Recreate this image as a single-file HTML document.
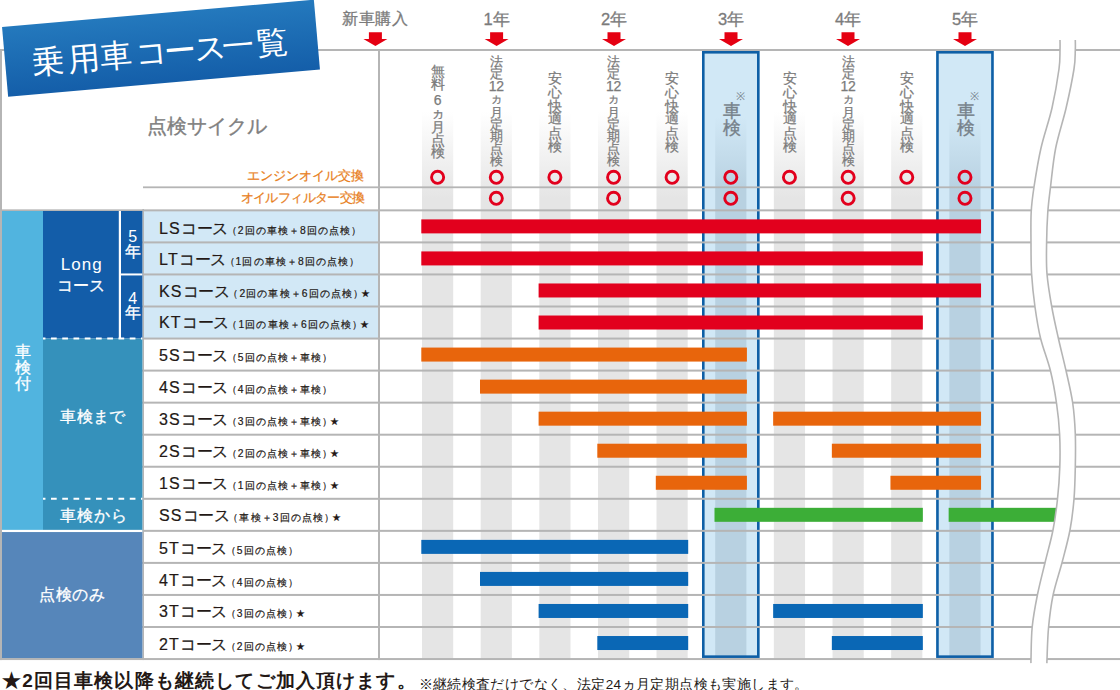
<!DOCTYPE html>
<html><head><meta charset="utf-8"><style>
*{margin:0;padding:0;box-sizing:border-box}
html,body{width:1120px;height:690px;overflow:hidden;background:#fff}
body{position:relative;font-family:"Liberation Sans",sans-serif;}
svg{position:absolute;left:0;top:0}
.ttl{position:absolute;left:4.5px;top:16.5px;width:313px;height:70px;transform:rotate(-5deg);color:#fff;font-size:32px;line-height:70px;padding-left:27px;letter-spacing:0;font-weight:300;white-space:nowrap}
.yl{position:absolute;top:9px;text-align:center;color:#7b7b7b;font-size:16.5px;line-height:20px;white-space:nowrap;-webkit-text-stroke:0.3px #7b7b7b}
.cyc{position:absolute;left:147px;top:114px;color:#808080;font-size:20px;line-height:24px;-webkit-text-stroke:0.35px #808080;white-space:nowrap}
.oil{position:absolute;right:756px;color:#e8801d;font-size:12.5px;-webkit-text-stroke:0.25px #e8801d;line-height:15px;white-space:nowrap}
.vt{position:absolute;top:0;width:30px;color:#7b7b7b;-webkit-text-stroke:0.25px #7b7b7b}
.vt span{position:absolute;left:0;width:30px;height:20px;line-height:20px;text-align:center;white-space:nowrap}
.vt.sk{color:#76818a;-webkit-text-stroke:0.35px #76818a}
.kome{position:absolute;width:10px;text-align:center;color:#76818a;font-size:11px;line-height:11px}
.wl{position:absolute;color:#fff;text-align:center;white-space:nowrap;-webkit-text-stroke:0.3px #fff}
.cl{position:absolute;left:159px;height:18px;line-height:18px;color:#231815;-webkit-text-stroke:0.2px #231815;white-space:nowrap}
.cc{font-size:16px;letter-spacing:1.2px}
.cn{font-size:15.5px;letter-spacing:-0.3px}
.cd{font-size:10.3px;margin-left:-1.5px;letter-spacing:1.1px;-webkit-text-stroke:0.2px #231815}
.ft1{position:absolute;left:2px;top:669.5px;font-size:19px;line-height:22px;font-weight:bold;color:#231815;white-space:nowrap;letter-spacing:1.15px}
.ft2{position:absolute;left:418.5px;top:677px;font-size:13.5px;line-height:16px;color:#231815;white-space:nowrap;letter-spacing:0.4px}
</style></head>
<body>
<svg width="1120" height="690" viewBox="0 0 1120 690">
<defs>
<linearGradient id="gs" x1="0" y1="51" x2="0" y2="215" gradientUnits="userSpaceOnUse"><stop offset="0" stop-color="#e5e5e5" stop-opacity="0"/><stop offset="0.37" stop-color="#e5e5e5" stop-opacity="0"/><stop offset="0.9" stop-color="#e5e5e5" stop-opacity="1"/><stop offset="1" stop-color="#e5e5e5" stop-opacity="1"/></linearGradient>
<linearGradient id="gb" x1="0" y1="51" x2="0" y2="215" gradientUnits="userSpaceOnUse"><stop offset="0" stop-color="#b8d1e1" stop-opacity="0"/><stop offset="0.4" stop-color="#b8d1e1" stop-opacity="0"/><stop offset="0.85" stop-color="#b8d1e1" stop-opacity="1"/><stop offset="1" stop-color="#b8d1e1" stop-opacity="1"/></linearGradient>
<linearGradient id="gt" x1="0" y1="0" x2="0" y2="1"><stop offset="0" stop-color="#2479bd"/><stop offset="1" stop-color="#145ea9"/></linearGradient>
</defs>
<rect x="144" y="210" width="234" height="128.55" fill="#d2e8f6"/>
<rect x="422.00" y="51" width="31.20" height="608.05" fill="url(#gs)"/>
<rect x="480.70" y="51" width="31.20" height="608.05" fill="url(#gs)"/>
<rect x="539.30" y="51" width="31.20" height="608.05" fill="url(#gs)"/>
<rect x="598.00" y="51" width="31.20" height="608.05" fill="url(#gs)"/>
<rect x="656.50" y="51" width="31.20" height="608.05" fill="url(#gs)"/>
<rect x="702.00" y="51" width="57.6" height="606.95" fill="#d1e8f6"/>
<rect x="715.20" y="51" width="31.20" height="606.95" fill="url(#gb)"/>
<rect x="703.30" y="52.3" width="55.00" height="604.35" fill="none" stroke="#0e5fa6" stroke-width="2.6"/>
<rect x="773.85" y="51" width="31.20" height="608.05" fill="url(#gs)"/>
<rect x="832.55" y="51" width="31.20" height="608.05" fill="url(#gs)"/>
<rect x="891.15" y="51" width="31.20" height="608.05" fill="url(#gs)"/>
<rect x="936.15" y="51" width="57.6" height="606.95" fill="#d1e8f6"/>
<rect x="949.35" y="51" width="31.20" height="606.95" fill="url(#gb)"/>
<rect x="937.45" y="52.3" width="55.00" height="604.35" fill="none" stroke="#0e5fa6" stroke-width="2.6"/>
<rect x="0" y="49" width="1120" height="2" fill="#b5b5b5"/>
<rect x="143" y="186.4" width="977" height="1.8" fill="#b5b5b5"/>
<rect x="0" y="209.35" width="1120" height="2" fill="#b5b5b5"/>
<rect x="142" y="241.40" width="978" height="2" fill="#b5b5b5"/>
<rect x="142" y="273.45" width="978" height="2" fill="#b5b5b5"/>
<rect x="142" y="305.50" width="978" height="2" fill="#b5b5b5"/>
<rect x="142" y="337.55" width="978" height="2" fill="#b5b5b5"/>
<rect x="142" y="369.60" width="978" height="2" fill="#b5b5b5"/>
<rect x="142" y="401.65" width="978" height="2" fill="#b5b5b5"/>
<rect x="142" y="433.70" width="978" height="2" fill="#b5b5b5"/>
<rect x="142" y="465.75" width="978" height="2" fill="#b5b5b5"/>
<rect x="142" y="497.80" width="978" height="2" fill="#b5b5b5"/>
<rect x="142" y="529.85" width="978" height="2" fill="#b5b5b5"/>
<rect x="142" y="561.90" width="978" height="2" fill="#b5b5b5"/>
<rect x="142" y="593.95" width="978" height="2" fill="#b5b5b5"/>
<rect x="142" y="626.00" width="978" height="2" fill="#b5b5b5"/>
<rect x="0" y="658.05" width="1120" height="2" fill="#b5b5b5"/>
<rect x="0" y="49" width="2" height="611.05" fill="#b5b5b5"/>
<rect x="378" y="49" width="2" height="611.05" fill="#b5b5b5"/>
<rect x="142.4" y="209" width="1.6" height="451.05" fill="#b5b5b5"/>
<rect x="2" y="211" width="41" height="319.85" fill="#51b4df"/>
<rect x="43" y="211" width="99.4" height="127.55" fill="#135da9"/>
<rect x="43" y="338.55" width="99.4" height="192.30" fill="#3591bb"/>
<rect x="2" y="530.85" width="140.4" height="127.20" fill="#5686ba"/>
<rect x="118.8" y="211" width="2.2" height="127.55" fill="#fff"/>
<rect x="121" y="273.45" width="21.4" height="2" fill="#fff"/>
<rect x="2" y="529.85" width="140.4" height="2.2" fill="#fff"/>
<line x1="43" y1="338.55" x2="142.4" y2="338.55" stroke="#fff" stroke-width="2" stroke-dasharray="5.7 5.55" stroke-dashoffset="3.25"/>
<line x1="43" y1="498.80" x2="142.4" y2="498.80" stroke="#fff" stroke-width="2" stroke-dasharray="5.7 5.55" stroke-dashoffset="3.25"/>
<rect x="421.30" y="219.38" width="559.75" height="14" fill="#e2001d"/>
<rect x="421.30" y="251.42" width="501.55" height="14" fill="#e2001d"/>
<rect x="538.60" y="283.47" width="442.45" height="14" fill="#e2001d"/>
<rect x="538.60" y="315.52" width="384.25" height="14" fill="#e2001d"/>
<rect x="421.30" y="347.57" width="325.60" height="14" fill="#e8650c"/>
<rect x="480.00" y="379.62" width="266.90" height="14" fill="#e8650c"/>
<rect x="538.60" y="411.67" width="208.30" height="14" fill="#e8650c"/>
<rect x="773.15" y="411.67" width="207.90" height="14" fill="#e8650c"/>
<rect x="597.30" y="443.72" width="149.60" height="14" fill="#e8650c"/>
<rect x="831.85" y="443.72" width="149.20" height="14" fill="#e8650c"/>
<rect x="655.80" y="475.77" width="91.10" height="14" fill="#e8650c"/>
<rect x="890.45" y="475.77" width="90.60" height="14" fill="#e8650c"/>
<rect x="714.50" y="507.82" width="208.35" height="14" fill="#3cae37"/>
<rect x="948.65" y="507.82" width="109.35" height="14" fill="#3cae37"/>
<rect x="421.30" y="539.88" width="266.90" height="14" fill="#0a67b5"/>
<rect x="480.00" y="571.92" width="208.20" height="14" fill="#0a67b5"/>
<rect x="538.60" y="603.97" width="149.60" height="14" fill="#0a67b5"/>
<rect x="773.15" y="603.97" width="149.70" height="14" fill="#0a67b5"/>
<rect x="597.30" y="636.02" width="90.90" height="14" fill="#0a67b5"/>
<rect x="831.85" y="636.02" width="91.00" height="14" fill="#0a67b5"/>
<circle cx="437.60" cy="177.3" r="6.05" fill="none" stroke="#e2001d" stroke-width="2.9"/>
<circle cx="496.30" cy="177.3" r="6.05" fill="none" stroke="#e2001d" stroke-width="2.9"/>
<circle cx="554.90" cy="177.3" r="6.05" fill="none" stroke="#e2001d" stroke-width="2.9"/>
<circle cx="613.60" cy="177.3" r="6.05" fill="none" stroke="#e2001d" stroke-width="2.9"/>
<circle cx="672.10" cy="177.3" r="6.05" fill="none" stroke="#e2001d" stroke-width="2.9"/>
<circle cx="730.80" cy="177.3" r="6.05" fill="none" stroke="#e2001d" stroke-width="2.9"/>
<circle cx="789.45" cy="177.3" r="6.05" fill="none" stroke="#e2001d" stroke-width="2.9"/>
<circle cx="848.15" cy="177.3" r="6.05" fill="none" stroke="#e2001d" stroke-width="2.9"/>
<circle cx="906.75" cy="177.3" r="6.05" fill="none" stroke="#e2001d" stroke-width="2.9"/>
<circle cx="964.95" cy="177.3" r="6.05" fill="none" stroke="#e2001d" stroke-width="2.9"/>
<circle cx="496.30" cy="198.3" r="6.05" fill="none" stroke="#e2001d" stroke-width="2.9"/>
<circle cx="613.60" cy="198.3" r="6.05" fill="none" stroke="#e2001d" stroke-width="2.9"/>
<circle cx="730.80" cy="198.3" r="6.05" fill="none" stroke="#e2001d" stroke-width="2.9"/>
<circle cx="848.15" cy="198.3" r="6.05" fill="none" stroke="#e2001d" stroke-width="2.9"/>
<circle cx="964.95" cy="198.3" r="6.05" fill="none" stroke="#e2001d" stroke-width="2.9"/>
<path d="M1060.00 40.00 C1060.00 41.67 1060.17 45.17 1060.00 50.00 C1059.83 54.83 1060.33 59.33 1059.00 69.00 C1057.67 78.67 1055.00 94.83 1052.00 108.00 C1049.00 121.17 1044.00 134.83 1041.00 148.00 C1038.00 161.17 1035.63 176.33 1034.00 187.00 C1032.37 197.67 1031.70 202.67 1031.20 212.00 C1030.70 221.33 1030.93 232.67 1031.00 243.00 C1031.07 253.33 1030.93 263.33 1031.60 274.00 C1032.27 284.67 1033.52 296.33 1035.00 307.00 C1036.48 317.67 1037.92 327.33 1040.50 338.00 C1043.08 348.67 1047.83 360.17 1050.50 371.00 C1053.17 381.83 1054.98 392.50 1056.50 403.00 C1058.02 413.50 1059.05 423.33 1059.60 434.00 C1060.15 444.67 1060.15 456.17 1059.80 467.00 C1059.45 477.83 1058.63 488.50 1057.50 499.00 C1056.37 509.50 1055.05 519.50 1053.00 530.00 C1050.95 540.50 1047.80 551.17 1045.20 562.00 C1042.60 572.83 1039.57 584.17 1037.40 595.00 C1035.23 605.83 1033.27 616.33 1032.20 627.00 C1031.13 637.67 1031.20 653.00 1031.00 659.00 C1030.80 665.00 1031.00 662.33 1031.00 663.00 L1047.00 663.00 C1047.00 662.33 1046.73 665.00 1047.00 659.00 C1047.27 653.00 1047.58 637.67 1048.60 627.00 C1049.62 616.33 1050.83 605.83 1053.10 595.00 C1055.37 584.17 1059.38 572.83 1062.20 562.00 C1065.02 551.17 1068.03 540.50 1070.00 530.00 C1071.97 519.50 1073.12 509.50 1074.00 499.00 C1074.88 488.50 1075.08 477.83 1075.30 467.00 C1075.52 456.17 1075.73 444.67 1075.30 434.00 C1074.87 423.33 1074.23 413.50 1072.70 403.00 C1071.17 392.50 1068.50 381.83 1066.10 371.00 C1063.70 360.17 1060.68 348.67 1058.30 338.00 C1055.92 327.33 1053.68 317.67 1051.80 307.00 C1049.92 296.33 1047.87 284.67 1047.00 274.00 C1046.13 263.33 1046.47 253.33 1046.60 243.00 C1046.73 232.67 1047.15 221.33 1047.80 212.00 C1048.45 202.67 1049.18 197.67 1050.50 187.00 C1051.82 176.33 1053.10 161.17 1055.70 148.00 C1058.30 134.83 1063.05 121.17 1066.10 108.00 C1069.15 94.83 1072.47 78.67 1074.00 69.00 C1075.53 59.33 1075.08 54.83 1075.30 50.00 C1075.52 45.17 1075.30 41.67 1075.30 40.00 Z" fill="#fff"/>
<path d="M1060.00 40.00 C1060.00 41.67 1060.17 45.17 1060.00 50.00 C1059.83 54.83 1060.33 59.33 1059.00 69.00 C1057.67 78.67 1055.00 94.83 1052.00 108.00 C1049.00 121.17 1044.00 134.83 1041.00 148.00 C1038.00 161.17 1035.63 176.33 1034.00 187.00 C1032.37 197.67 1031.70 202.67 1031.20 212.00 C1030.70 221.33 1030.93 232.67 1031.00 243.00 C1031.07 253.33 1030.93 263.33 1031.60 274.00 C1032.27 284.67 1033.52 296.33 1035.00 307.00 C1036.48 317.67 1037.92 327.33 1040.50 338.00 C1043.08 348.67 1047.83 360.17 1050.50 371.00 C1053.17 381.83 1054.98 392.50 1056.50 403.00 C1058.02 413.50 1059.05 423.33 1059.60 434.00 C1060.15 444.67 1060.15 456.17 1059.80 467.00 C1059.45 477.83 1058.63 488.50 1057.50 499.00 C1056.37 509.50 1055.05 519.50 1053.00 530.00 C1050.95 540.50 1047.80 551.17 1045.20 562.00 C1042.60 572.83 1039.57 584.17 1037.40 595.00 C1035.23 605.83 1033.27 616.33 1032.20 627.00 C1031.13 637.67 1031.20 653.00 1031.00 659.00 C1030.80 665.00 1031.00 662.33 1031.00 663.00" fill="none" stroke="#b5b5b5" stroke-width="1.6"/>
<path d="M1075.30 40.00 C1075.30 41.67 1075.52 45.17 1075.30 50.00 C1075.08 54.83 1075.53 59.33 1074.00 69.00 C1072.47 78.67 1069.15 94.83 1066.10 108.00 C1063.05 121.17 1058.30 134.83 1055.70 148.00 C1053.10 161.17 1051.82 176.33 1050.50 187.00 C1049.18 197.67 1048.45 202.67 1047.80 212.00 C1047.15 221.33 1046.73 232.67 1046.60 243.00 C1046.47 253.33 1046.13 263.33 1047.00 274.00 C1047.87 284.67 1049.92 296.33 1051.80 307.00 C1053.68 317.67 1055.92 327.33 1058.30 338.00 C1060.68 348.67 1063.70 360.17 1066.10 371.00 C1068.50 381.83 1071.17 392.50 1072.70 403.00 C1074.23 413.50 1074.87 423.33 1075.30 434.00 C1075.73 444.67 1075.52 456.17 1075.30 467.00 C1075.08 477.83 1074.88 488.50 1074.00 499.00 C1073.12 509.50 1071.97 519.50 1070.00 530.00 C1068.03 540.50 1065.02 551.17 1062.20 562.00 C1059.38 572.83 1055.37 584.17 1053.10 595.00 C1050.83 605.83 1049.62 616.33 1048.60 627.00 C1047.58 637.67 1047.27 653.00 1047.00 659.00 C1046.73 665.00 1047.00 662.33 1047.00 663.00" fill="none" stroke="#b5b5b5" stroke-width="1.6"/>
<path d="M368.90 32.2 h13 v6.7 h5.5 l-12 7 l-12 -7 h5.5 z" fill="#e50012"/>
<path d="M490.10 32.2 h13 v6.7 h5.5 l-12 7 l-12 -7 h5.5 z" fill="#e50012"/>
<path d="M607.50 32.2 h13 v6.7 h5.5 l-12 7 l-12 -7 h5.5 z" fill="#e50012"/>
<path d="M724.50 32.2 h13 v6.7 h5.5 l-12 7 l-12 -7 h5.5 z" fill="#e50012"/>
<path d="M841.50 32.2 h13 v6.7 h5.5 l-12 7 l-12 -7 h5.5 z" fill="#e50012"/>
<path d="M958.50 32.2 h13 v6.7 h5.5 l-12 7 l-12 -7 h5.5 z" fill="#e50012"/>
<g transform="translate(161 48.2) rotate(-5)"><rect x="-156.5" y="-35" width="313" height="70" fill="url(#gt)"/></g>
</svg>
<div class="ttl"><span style="display:inline-block;width:35.4px">乗</span><span style="display:inline-block;width:32.7px">用</span><span style="display:inline-block;width:34.4px">車</span><span style="display:inline-block;width:29.6px">コ</span><span style="display:inline-block;width:30.6px">ー</span><span style="display:inline-block;width:27.5px">ス</span><span style="display:inline-block;width:33.8px">一</span><span style="display:inline-block;width:33.0px">覧</span></div>
<div class="yl" style="left:335.4px;width:80px;font-size:15.5px;letter-spacing:0.6px">新車購入</div>
<div class="yl" style="left:466.6px;width:60px;">1年</div>
<div class="yl" style="left:584.0px;width:60px;">2年</div>
<div class="yl" style="left:701.0px;width:60px;">3年</div>
<div class="yl" style="left:818.0px;width:60px;">4年</div>
<div class="yl" style="left:935.0px;width:60px;">5年</div>
<div class="cyc">点検サイクル</div>
<div class="oil" style="top:169px">エンジンオイル交換</div>
<div class="oil" style="top:191px;letter-spacing:-0.6px;right:755.4px">オイルフィルター交換</div>
<div class="vt" style="left:422.6px;font-size:14px"><span style="top:60.65px">無</span><span style="top:73.95px">料</span><span style="top:89.65px;font-size:14px;letter-spacing:-0.3px">6</span><span style="top:103.25px">ヵ</span><span style="top:116.80px">月</span><span style="top:129.50px">点</span><span style="top:142.05px">検</span></div>
<div class="vt" style="left:481.3px;font-size:12.6px"><span style="top:51.75px">法</span><span style="top:63.70px">定</span><span style="top:76.15px;font-size:14px;letter-spacing:-0.3px">12</span><span style="top:88.95px">ヵ</span><span style="top:102.75px">月</span><span style="top:114.85px">定</span><span style="top:126.65px">期</span><span style="top:138.85px">点</span><span style="top:151.00px">検</span></div>
<div class="vt" style="left:598.6px;font-size:12.6px"><span style="top:51.75px">法</span><span style="top:63.70px">定</span><span style="top:76.15px;font-size:14px;letter-spacing:-0.3px">12</span><span style="top:88.95px">ヵ</span><span style="top:102.75px">月</span><span style="top:114.85px">定</span><span style="top:126.65px">期</span><span style="top:138.85px">点</span><span style="top:151.00px">検</span></div>
<div class="vt" style="left:833.1px;font-size:12.6px"><span style="top:51.75px">法</span><span style="top:63.70px">定</span><span style="top:76.15px;font-size:14px;letter-spacing:-0.3px">12</span><span style="top:88.95px">ヵ</span><span style="top:102.75px">月</span><span style="top:114.85px">定</span><span style="top:126.65px">期</span><span style="top:138.85px">点</span><span style="top:151.00px">検</span></div>
<div class="vt" style="left:539.9px;font-size:14px"><span style="top:67.60px">安</span><span style="top:81.90px">心</span><span style="top:95.50px">快</span><span style="top:108.40px">適</span><span style="top:123.40px">点</span><span style="top:136.35px">検</span></div>
<div class="vt" style="left:657.1px;font-size:14px"><span style="top:67.60px">安</span><span style="top:81.90px">心</span><span style="top:95.50px">快</span><span style="top:108.40px">適</span><span style="top:123.40px">点</span><span style="top:136.35px">検</span></div>
<div class="vt" style="left:774.5px;font-size:14px"><span style="top:67.60px">安</span><span style="top:81.90px">心</span><span style="top:95.50px">快</span><span style="top:108.40px">適</span><span style="top:123.40px">点</span><span style="top:136.35px">検</span></div>
<div class="vt" style="left:891.8px;font-size:14px"><span style="top:67.60px">安</span><span style="top:81.90px">心</span><span style="top:95.50px">快</span><span style="top:108.40px">適</span><span style="top:123.40px">点</span><span style="top:136.35px">検</span></div>
<div class="vt sk" style="left:716.6px;font-size:18px"><span style="top:101.00px">車</span><span style="top:118.00px">検</span></div>
<div class="kome" style="left:735.3px;top:90.5px">※</div>
<div class="vt sk" style="left:950.8px;font-size:18px"><span style="top:101.00px">車</span><span style="top:118.00px">検</span></div>
<div class="kome" style="left:969.5px;top:90.5px">※</div>
<div class="wl" style="left:2px;top:343.5px;width:41px;line-height:16.4px;font-size:16px;">車<br>検<br>付</div>
<div class="wl" style="left:43px;top:255.5px;width:76px;font-size:17px;line-height:18px;letter-spacing:1.0px;padding-left:1.5px;-webkit-text-stroke:0">Long</div>
<div class="wl" style="left:43px;top:276.5px;width:76px;font-size:16px;line-height:18px;letter-spacing:-0.3px">コース</div>
<div class="wl" style="left:122.3px;top:230px;width:21px;font-size:16px;line-height:14.5px;"><span style="-webkit-text-stroke:0">5</span><br>年</div>
<div class="wl" style="left:122.3px;top:291.5px;width:21px;font-size:16px;line-height:14.5px;"><span style="-webkit-text-stroke:0">4</span><br>年</div>
<div class="wl" style="left:43px;top:408px;width:100px;font-size:16px;line-height:18px;letter-spacing:0.4px">車検まで</div>
<div class="wl" style="left:43px;top:507px;width:100px;font-size:16px;line-height:18px;letter-spacing:0.8px;padding-left:2px">車検から</div>
<div class="wl" style="left:2px;top:586px;width:141px;font-size:16px;line-height:18px;letter-spacing:0.7px">点検のみ</div>
<div class="cl" style="top:220.1px"><span class="cc">LS</span><span class="cn">コース</span><span class="cd">（2回の車検＋8回の点検）</span></div>
<div class="cl" style="top:251.3px"><span class="cc">LT</span><span class="cn">コース</span><span class="cd">（1回の車検＋8回の点検）</span></div>
<div class="cl" style="top:283.3px"><span class="cc">KS</span><span class="cn">コース</span><span class="cd">（2回の車検＋6回の点検）<span style="margin-left:-3px">★</span></span></div>
<div class="cl" style="top:314.3px"><span class="cc">KT</span><span class="cn">コース</span><span class="cd">（1回の車検＋6回の点検）<span style="margin-left:-3px">★</span></span></div>
<div class="cl" style="top:347.3px"><span class="cc">5S</span><span class="cn">コース</span><span class="cd">（5回の点検＋車検）</span></div>
<div class="cl" style="top:379.2px"><span class="cc">4S</span><span class="cn">コース</span><span class="cd">（4回の点検＋車検）</span></div>
<div class="cl" style="top:411.1px"><span class="cc">3S</span><span class="cn">コース</span><span class="cd">（3回の点検＋車検）<span style="margin-left:-3px">★</span></span></div>
<div class="cl" style="top:442.8px"><span class="cc">2S</span><span class="cn">コース</span><span class="cd">（2回の点検＋車検）<span style="margin-left:-3px">★</span></span></div>
<div class="cl" style="top:475.4px"><span class="cc">1S</span><span class="cn">コース</span><span class="cd">（1回の点検＋車検）<span style="margin-left:-3px">★</span></span></div>
<div class="cl" style="top:506.7px"><span class="cc">SS</span><span class="cn">コース</span><span class="cd">（車検＋3回の点検）<span style="margin-left:-3px">★</span></span></div>
<div class="cl" style="top:539.8px"><span class="cc">5T</span><span class="cn">コース</span><span class="cd">（5回の点検）</span></div>
<div class="cl" style="top:571.7px"><span class="cc">4T</span><span class="cn">コース</span><span class="cd">（4回の点検）</span></div>
<div class="cl" style="top:603.3px"><span class="cc">3T</span><span class="cn">コース</span><span class="cd">（3回の点検）<span style="margin-left:-3px">★</span></span></div>
<div class="cl" style="top:635.5px"><span class="cc">2T</span><span class="cn">コース</span><span class="cd">（2回の点検）<span style="margin-left:-3px">★</span></span></div>
<div class="ft1">★2回目車検以降も継続してご加入頂けます。</div>
<div class="ft2">※継続検査だけでなく、法定24ヵ月定期点検も実施します。</div>
</body></html>
